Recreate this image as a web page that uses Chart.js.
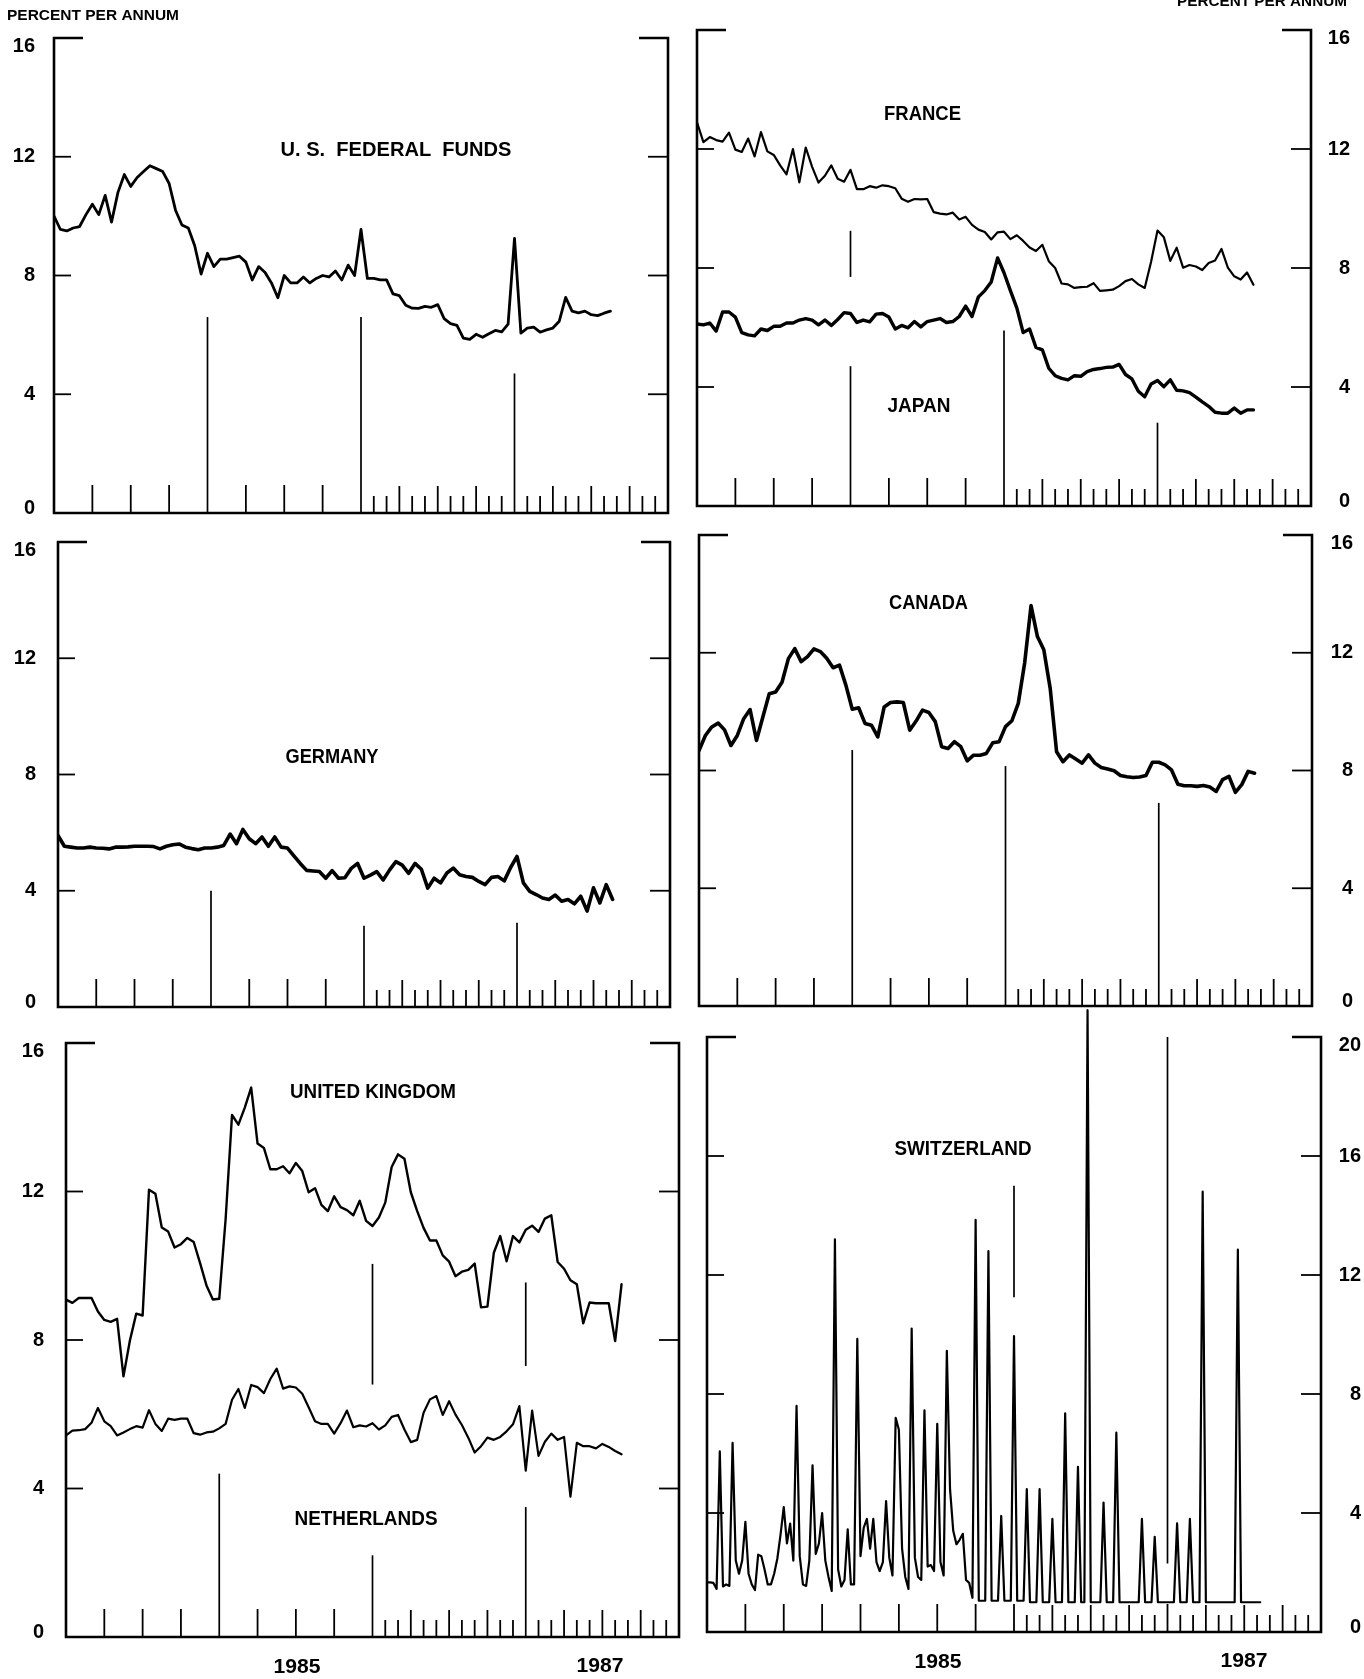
<!DOCTYPE html>
<html>
<head>
<meta charset="utf-8">
<script src="https://cdn.jsdelivr.net/npm/chart.js@4.4.1/dist/chart.umd.min.js"></script>
<style>
html,body{margin:0;padding:0;background:#fff;}
#wrap{position:relative;width:1364px;height:1679px;overflow:hidden;background:#fff;}
#wrap canvas{position:absolute;left:0;top:0;}
</style>
</head>
<body>
<div id="wrap"></div>
<script>
// ---- time axis: months since Jan 1984 (0..48) ----
const STEP = 0.5;          // semi-monthly observations
const SWISS_STEP = 0.25;   // weekly observations
const quarterTickMonths = [3, 6, 9, 15, 18, 21];
const monthlyTickMonths = [25,26,27,28,29,30,31,32,33,34,35,37,38,39,40,41,42,43,44,45,46,47];
const yearMonths = [12, 24, 36];
const yearLabels = ['1985', '1987'];
const ticks16 = [0, 4, 8, 12, 16];
const ticks20 = [0, 4, 8, 12, 16, 20];

// ---- series values (percent per annum) ----
const usFedFunds = [10.0,9.55,9.5,9.6,9.65,10.05,10.4,10.05,10.7,9.8,
 10.8,11.4,11.0,11.3,11.5,11.7,11.6,11.5,11.1,10.2,
 9.7,9.6,9.0,8.05,8.75,8.3,8.55,8.55,8.6,8.65,
 8.45,7.85,8.3,8.1,7.75,7.25,8.0,7.75,7.75,7.95,
 7.75,7.9,8.0,7.95,8.15,7.85,8.35,8.0,9.55,7.9,
 7.9,7.85,7.85,7.38,7.32,7.0,6.9,6.89,6.96,6.93,
 7.02,6.55,6.38,6.32,5.89,5.85,6.02,5.92,6.04,6.15,
 6.1,6.36,9.25,6.06,6.23,6.26,6.09,6.17,6.23,6.46,
 7.26,6.8,6.74,6.8,6.68,6.65,6.73,6.8];

const france = [12.9,12.23,12.4,12.3,12.25,12.55,11.98,11.9,12.35,11.75,12.57,
 11.92,11.8,11.45,11.15,12.0,10.88,12.05,11.4,10.87,11.1,11.45,11.0,10.9,11.3,10.65,10.65,10.75,10.7,10.78,10.75,
 10.68,10.33,10.23,10.32,10.31,10.32,9.88,9.83,9.8,9.86,9.63,9.72,9.45,9.29,9.21,8.96,9.2,9.22,8.97,9.1,
 8.91,8.69,8.57,8.78,8.23,8.0,7.48,7.45,7.33,7.36,7.37,7.49,7.23,7.25,7.27,7.39,7.56,7.63,7.45,7.33,
 8.21,9.26,9.03,8.24,8.68,8.01,8.1,8.05,7.93,8.17,8.25,8.64,8.01,7.72,7.61,7.85,7.44];

const japan = [6.12,6.09,6.15,5.88,6.52,6.52,6.35,5.83,5.75,5.72,5.95,
 5.9,6.04,6.04,6.15,6.15,6.25,6.3,6.25,6.09,6.25,6.07,6.27,6.5,6.47,6.17,6.25,6.19,6.45,6.47,6.35,
 5.95,6.07,5.99,6.2,6.02,6.2,6.25,6.3,6.17,6.2,6.37,6.72,6.37,7.03,7.24,7.53,8.34,7.84,7.24,6.66,
 5.83,5.95,5.33,5.25,4.63,4.38,4.29,4.24,4.38,4.36,4.52,4.59,4.62,4.66,4.67,4.76,4.42,4.27,3.86,3.67,
 4.1,4.22,4.01,4.24,3.89,3.87,3.81,3.66,3.5,3.35,3.15,3.12,3.12,3.29,3.12,3.23,3.23];

const germany = [5.9,5.53,5.5,5.47,5.47,5.5,5.47,5.46,5.44,5.5,5.5,5.51,5.53,5.53,5.53,5.52,5.44,5.53,5.58,5.61,
 5.5,5.45,5.41,5.47,5.47,5.5,5.56,5.95,5.62,6.11,5.79,5.62,5.85,5.53,5.85,5.5,5.47,5.2,4.94,4.7,
 4.68,4.66,4.43,4.69,4.43,4.45,4.77,4.94,4.43,4.54,4.66,4.37,4.71,5.0,4.88,4.6,4.94,4.74,4.09,4.43,
 4.27,4.61,4.78,4.55,4.49,4.46,4.32,4.21,4.46,4.49,4.34,4.8,5.18,4.27,3.98,3.87,3.75,3.7,3.85,3.64,
 3.7,3.55,3.81,3.3,4.1,3.58,4.21,3.7];

const canada = [8.68,9.19,9.48,9.61,9.38,8.85,9.19,9.76,10.07,9.02,9.82,10.61,10.67,11.0,11.8,12.14,
 11.7,11.87,12.13,12.04,11.81,11.49,11.58,10.9,10.08,10.13,9.6,9.54,9.14,10.16,10.31,10.33,10.31,9.37,9.68,10.05,
 9.97,9.66,8.81,8.75,8.98,8.81,8.33,8.52,8.52,8.58,8.94,8.98,9.49,9.69,10.28,11.65,13.6,12.55,12.1,10.79,
 8.64,8.3,8.53,8.39,8.25,8.53,8.25,8.1,8.05,7.99,7.83,7.79,7.76,7.78,7.83,8.28,8.28,8.19,8.02,7.53,
 7.48,7.48,7.46,7.49,7.44,7.29,7.69,7.8,7.26,7.52,7.97,7.91];

const unitedKingdom = [9.09,9.0,9.13,9.13,9.13,8.77,8.54,8.49,8.57,7.02,7.98,8.71,8.66,12.05,11.94,11.03,10.92,10.49,10.58,10.75,
 10.64,10.07,9.47,9.09,9.11,11.26,14.06,13.8,14.26,14.8,13.29,
 13.17,12.6,12.6,12.68,12.49,12.77,12.55,11.98,12.09,11.64,11.47,11.87,11.58,11.5,11.36,11.75,11.21,11.07,11.3,11.7,
 12.66,13.0,12.88,11.98,11.47,11.02,10.68,10.68,10.28,10.11,
 9.72,9.84,9.89,10.06,8.88,8.9,10.35,10.8,10.12,10.8,10.63,10.97,11.08,10.91,11.27,11.36,10.1,9.92,9.61,9.5,
 8.45,9.01,8.99,8.99,8.99,7.97,9.5];

const netherlands = [5.43,5.56,5.57,5.6,5.77,6.17,5.81,5.68,5.43,5.51,5.6,5.68,5.64,6.11,5.74,5.55,5.88,5.85,5.88,5.88,
 5.49,5.45,5.51,5.53,5.62,5.74,6.39,6.68,6.17,6.79,6.73,
 6.57,6.95,7.23,6.69,6.75,6.72,6.55,6.19,5.81,5.74,5.74,5.48,5.76,6.1,5.65,5.7,5.67,5.76,5.59,5.7,
 5.93,5.98,5.59,5.25,5.31,6.04,6.4,6.49,5.98,6.35,
 5.99,5.71,5.37,4.97,5.14,5.37,5.31,5.39,5.54,5.73,6.22,4.48,6.1,4.88,5.26,5.48,5.31,5.39,3.78,5.23,
 5.14,5.14,5.08,5.2,5.12,5.01,4.92];

const switzerland = [1.67,1.67,1.65,1.45,6.07,1.53,1.6,1.55,6.36,2.4,
 1.96,2.4,3.7,1.96,1.6,1.41,2.6,2.55,2.1,1.6,
 1.6,1.96,2.47,3.27,4.2,2.98,3.64,2.4,7.6,2.55,
 1.6,1.55,2.4,5.6,2.62,2.98,4.0,2.4,1.85,1.38,
 13.2,2.1,1.53,1.75,3.45,1.6,1.6,9.85,2.55,3.5,
 3.8,2.8,3.8,2.35,2.05,2.35,4.4,2.5,1.9,7.2,
 6.8,2.8,1.85,1.45,10.2,2.5,1.85,1.75,7.45,2.2,
 2.25,2.05,7.0,2.35,1.9,9.45,4.8,3.4,2.95,3.1,
 3.3,1.75,1.65,1.15,13.85,1.05,1.05,1.05,12.8,1.05,
 1.05,1.05,3.9,1.05,1.05,1.05,9.95,1.05,1.05,1.05,
 4.8,1.0,1.0,1.0,4.8,1.0,1.0,1.0,3.8,1.0,
 1.0,1.0,7.35,1.0,1.0,1.0,5.55,1.0,1.0,20.9,
 1.0,1.0,1.0,1.0,4.35,1.0,1.0,1.0,6.7,1.0,
 1.0,1.0,1.0,1.0,1.0,1.0,3.8,1.0,1.0,1.0,
 3.2,1.0,1.0,1.0,1.0,1.0,1.0,3.65,1.0,1.0,
 1.0,3.8,1.0,1.0,1.0,14.8,1.0,1.0,1.0,1.0,
 1.0,1.0,1.0,1.0,1.0,1.0,12.85,1.0,1.0,1.0,
 1.0,1.0,1.0,1.0];

// ---- year divider segments [month, from value, to value] ----
const usDividers = [[12,0,6.6],[24,0,6.6],[36,0,4.7]];
const frJpDividers = [[12,7.7,9.25],[12,0,4.7],[24,0,5.9],[36,0,2.8]];
const deDividers = [[12,0,4.0],[24,0,2.8],[36,0,2.9]];
const caDividers = [[12,0,8.7],[24,0,8.15],[36,0,6.9]];
const ukNlDividers = [[12,0,4.4],[24,6.8,10.05],[24,0,2.2],[36,7.3,9.55],[36,0,3.5]];
const chDividers = [[24,11.25,15.0],[36,2.3,20]];

// ---- layout ----
const W = 1364, H = 1679;
const FONT = '"Liberation Sans", Arial, Helvetica, sans-serif';

const panels = [
  { box:{l:54,r:668,t:38,b:513}, yMax:16, yTicks:ticks16, side:'left', labelX:35,
    series:[{data:usFedFunds, step:STEP, width:2.8}], dividers:usDividers, yearTicks:false,
    titles:[{text:'U. S.  FEDERAL  FUNDS', x:396, y:150.5, w:231}],
    extraText:[{text:'PERCENT PER ANNUM', x:93, y:15.5, w:172, size:15}] },
  { box:{l:697,r:1311,t:30,b:506}, yMax:16, yTicks:ticks16, side:'right', labelX:1350,
    series:[{data:france, step:STEP, width:2.2},{data:japan, step:STEP, width:3.4}], dividers:frJpDividers, yearTicks:false,
    titles:[{text:'FRANCE', x:922.5, y:114.5, w:77},{text:'JAPAN', x:919, y:406, w:63}],
    extraText:[{text:'PERCENT PER ANNUM', x:1262, y:2, w:170, size:15}] },
  { box:{l:58,r:670,t:542,b:1007}, yMax:16, yTicks:ticks16, side:'left', labelX:36,
    series:[{data:germany, step:STEP, width:3.6}], dividers:deDividers, yearTicks:false,
    titles:[{text:'GERMANY', x:332, y:757, w:93}], extraText:[] },
  { box:{l:699,r:1312,t:535,b:1006}, yMax:16, yTicks:ticks16, side:'right', labelX:1353,
    series:[{data:canada, step:STEP, width:3.6}], dividers:caDividers, yearTicks:false,
    titles:[{text:'CANADA', x:928.5, y:603, w:79}], extraText:[] },
  { box:{l:66,r:679,t:1043,b:1637}, yMax:16, yTicks:ticks16, side:'left', labelX:44,
    series:[{data:unitedKingdom, step:STEP, width:2.4},{data:netherlands, step:STEP, width:2.2}], dividers:ukNlDividers, yearTicks:false,
    titles:[{text:'UNITED KINGDOM', x:373, y:1092, w:166},{text:'NETHERLANDS', x:366, y:1519, w:143}],
    extraText:[{text:yearLabels[0], x:297, y:1667, w:47, size:21},{text:yearLabels[1], x:600, y:1666, w:47, size:21}] },
  { box:{l:707,r:1321,t:1037,b:1632}, yMax:20, yTicks:ticks20, side:'right', labelX:1361,
    series:[{data:switzerland, step:SWISS_STEP, width:2.2, noClip:true}], dividers:chDividers, yearTicks:true,
    titles:[{text:'SWITZERLAND', x:963, y:1149.5, w:137}],
    extraText:[{text:yearLabels[0], x:938, y:1662, w:47, size:21},{text:yearLabels[1], x:1244, y:1661, w:47, size:21}] }
];

function fitText(ctx, text, cx, cy, w, size) {
  ctx.save();
  ctx.font = 'bold ' + size + 'px ' + FONT;
  const m = ctx.measureText(text).width;
  ctx.translate(cx, cy);
  ctx.scale(w / m, 1);
  ctx.textAlign = 'center';
  ctx.textBaseline = 'middle';
  ctx.fillStyle = '#000';
  ctx.fillText(text, 0, 0);
  ctx.restore();
}

function seg(ctx, x1, y1, x2, y2) {
  ctx.beginPath(); ctx.moveTo(x1, y1); ctx.lineTo(x2, y2); ctx.stroke();
}

function makeFramePlugin(p) {
  return {
    id: 'frame',
    beforeDatasetsDraw(chart) {
      const ctx = chart.ctx, a = chart.chartArea, xs = chart.scales.x, ys = chart.scales.y;
      ctx.save();
      ctx.strokeStyle = '#000';
      ctx.fillStyle = '#000';
      // frame with top brackets
      ctx.lineWidth = 2.6;
      ctx.lineJoin = 'miter';
      ctx.beginPath();
      ctx.moveTo(a.left + 29, a.top);
      ctx.lineTo(a.left, a.top);
      ctx.lineTo(a.left, a.bottom);
      ctx.lineTo(a.right, a.bottom);
      ctx.lineTo(a.right, a.top);
      ctx.lineTo(a.right - 29, a.top);
      ctx.stroke();
      // y ticks (inward, both sides)
      ctx.lineWidth = 1.8;
      p.yTicks.forEach(v => {
        if (v === 0 || v === p.yMax) return;
        const py = ys.getPixelForValue(v);
        seg(ctx, a.left, py, a.left + 17, py);
        seg(ctx, a.right - 20, py, a.right, py);
      });
      // x ticks
      quarterTickMonths.forEach(m => {
        const px = xs.getPixelForValue(m);
        seg(ctx, px, a.bottom, px, a.bottom - 28);
      });
      monthlyTickMonths.forEach(m => {
        const px = xs.getPixelForValue(m);
        seg(ctx, px, a.bottom, px, a.bottom - (m % 3 === 0 ? 27 : 17));
      });
      if (p.yearTicks) {
        yearMonths.forEach(m => {
          const px = xs.getPixelForValue(m);
          seg(ctx, px, a.bottom, px, a.bottom - 28);
        });
      }
      // year dividers
      ctx.lineWidth = 1.7;
      p.dividers.forEach(([m, v0, v1]) => {
        const px = xs.getPixelForValue(m);
        seg(ctx, px, ys.getPixelForValue(v0), px, ys.getPixelForValue(v1));
      });
      // y labels
      ctx.font = 'bold 20px ' + FONT;
      ctx.textBaseline = 'middle';
      ctx.textAlign = 'right';
      p.yTicks.forEach(v => {
        let py = ys.getPixelForValue(v);
        if (v === p.yMax) py += 8;
        if (v === 0) py -= 5;
        ctx.fillText(String(v), p.labelX, py);
      });
      ctx.restore();
    },
    afterDatasetsDraw(chart) {
      const ctx = chart.ctx;
      p.titles.forEach(t => fitText(ctx, t.text, t.x, t.y, t.w, 20));
      p.extraText.forEach(t => fitText(ctx, t.text, t.x, t.y, t.w, t.size));
    }
  };
}

const wrap = document.getElementById('wrap');
panels.forEach(p => {
  const c = document.createElement('canvas');
  c.width = W; c.height = H;
  c.style.width = W + 'px'; c.style.height = H + 'px';
  wrap.appendChild(c);
  const datasets = p.series.map(s => {
    const ds = {
      data: s.data.map((v, i) => ({ x: i * s.step, y: v })),
      borderColor: '#000',
      borderWidth: s.width,
      pointRadius: 0,
      pointHoverRadius: 0,
      tension: 0,
      fill: false,
      borderJoinStyle: 'round',
      borderCapStyle: 'round'
    };
    if (s.noClip) ds.clip = false;
    return ds;
  });
  new Chart(c, {
    type: 'line',
    data: { datasets },
    options: {
      responsive: false,
      animation: false,
      devicePixelRatio: 1,
      events: [],
      layout: { padding: { left: p.box.l, right: W - p.box.r, top: p.box.t, bottom: H - p.box.b } },
      scales: {
        x: { type: 'linear', min: 0, max: 48, display: false },
        y: { type: 'linear', min: 0, max: p.yMax, display: false }
      },
      plugins: { legend: { display: false }, tooltip: { enabled: false } }
    },
    plugins: [makeFramePlugin(p)]
  });
});
</script>
</body>
</html>
